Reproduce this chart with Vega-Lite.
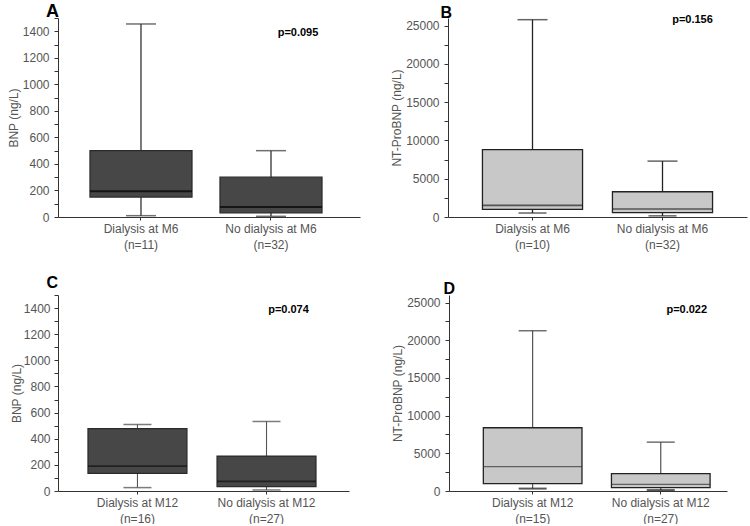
{
  "$schema": "https://vega.github.io/schema/vega-lite/v6.json",
  "background": "white",
  "padding": {"left": 7, "top": 3, "right": 3, "bottom": 0},
  "config": {
    "view": {"stroke": null},
    "font": "Liberation Sans",
    "axis": {
      "labelFont": "Liberation Sans", "labelFontSize": 12, "labelColor": "#555",
      "titleFont": "Liberation Sans", "titleFontSize": 12, "titleColor": "#555", "titleFontWeight": "normal",
      "domainColor": "#333", "tickColor": "#333", "grid": false, "labelOverlap": false
    },
    "title": {"font": "Liberation Sans", "fontWeight": "bold", "color": "#000", "anchor": "start", "frame": "group", "baseline": "bottom"}
  },
  "vconcat": [
    {
      "spacing": 30,
      "hconcat": [
        {
          "width": 302, "height": 199,
          "title": {"text": "A", "fontSize": 18, "offset": -9, "dx": 1, "align": "right"},
          "data": {"values": [
            {"group": "Dialysis at M6\n(n=11)", "low": 10, "q1": 150, "median": 195, "q3": 500, "high": 1455, "p": null},
            {"group": "No dialysis at M6\n(n=32)", "low": 5, "q1": 30, "median": 75, "q3": 300, "high": 500, "p": "p=0.095"}
          ]},
          "encoding": {"x": {"field": "group", "type": "nominal", "sort": null,
            "scale": {"paddingInner": 0.215, "paddingOuter": 0.269, "align": 0.457},
            "axis": {"title": null, "labelAngle": 0, "labelExpr": "split(datum.label, '\\n')", "labelLineHeight": 16, "tickSize": 3, "labelPadding": 3}}},
          "layer": [
            {"mark": {"type": "rule", "color": "#333", "strokeWidth": 1.3},
             "encoding": {"y": {"field": "low", "type": "quantitative", "scale": {"domain": [0, 1500], "nice": false},
               "axis": {"title": "BNP (ng/L)", "values": [0,100,200,300,400,500,600,700,800,900,1000,1100,1200,1300,1400,1500], "labelExpr": "datum.value % 200 === 0 && datum.value <= 1400 ? datum.label : ''", "labelOverlap": false, "tickSize": 4, "format": "d", "labelPadding": 5, "titlePadding": 2}},
               "y2": {"field": "high"}}},
            {"mark": {"type": "tick", "color": "#333", "size": 30, "thickness": 1.5}, "encoding": {"y": {"field": "high", "type": "quantitative",
               "axis": {"title": "BNP (ng/L)", "values": [0,100,200,300,400,500,600,700,800,900,1000,1100,1200,1300,1400,1500], "labelExpr": "datum.value % 200 === 0 && datum.value <= 1400 ? datum.label : ''", "labelOverlap": false, "tickSize": 4, "format": "d", "labelPadding": 5, "titlePadding": 2}}}},
            {"mark": {"type": "tick", "color": "#333", "size": 30, "thickness": 1.5}, "encoding": {"y": {"field": "low", "type": "quantitative",
               "axis": {"title": "BNP (ng/L)", "values": [0,100,200,300,400,500,600,700,800,900,1000,1100,1200,1300,1400,1500], "labelExpr": "datum.value % 200 === 0 && datum.value <= 1400 ? datum.label : ''", "labelOverlap": false, "tickSize": 4, "format": "d", "labelPadding": 5, "titlePadding": 2}}}},
            {"mark": {"type": "bar", "fill": "#474747", "stroke": "#2a2a2a", "strokeWidth": 1.2}, "encoding": {"y": {"field": "q1", "type": "quantitative",
               "axis": {"title": "BNP (ng/L)", "values": [0,100,200,300,400,500,600,700,800,900,1000,1100,1200,1300,1400,1500], "labelExpr": "datum.value % 200 === 0 && datum.value <= 1400 ? datum.label : ''", "labelOverlap": false, "tickSize": 4, "format": "d", "labelPadding": 5, "titlePadding": 2}}, "y2": {"field": "q3"}}},
            {"mark": {"type": "tick", "color": "#000", "size": 102, "thickness": 2}, "encoding": {"y": {"field": "median", "type": "quantitative",
               "axis": {"title": "BNP (ng/L)", "values": [0,100,200,300,400,500,600,700,800,900,1000,1100,1200,1300,1400,1500], "labelExpr": "datum.value % 200 === 0 && datum.value <= 1400 ? datum.label : ''", "labelOverlap": false, "tickSize": 4, "format": "d", "labelPadding": 5, "titlePadding": 2}}}},
            {"transform": [{"filter": "datum.p != null"}],
             "mark": {"type": "text", "font": "Liberation Sans", "fontSize": 11, "fontWeight": "bold", "color": "#000", "dx": 27},
             "encoding": {"y": {"datum": 1390, "type": "quantitative",
               "axis": {"title": "BNP (ng/L)", "values": [0,100,200,300,400,500,600,700,800,900,1000,1100,1200,1300,1400,1500], "labelExpr": "datum.value % 200 === 0 && datum.value <= 1400 ? datum.label : ''", "labelOverlap": false, "tickSize": 4, "format": "d", "labelPadding": 5, "titlePadding": 2}}, "text": {"field": "p"}}}
          ]
        },
        {
          "width": 299, "height": 199,
          "title": {"text": "B", "fontSize": 16, "offset": -7, "dx": 4, "align": "right"},
          "data": {"values": [
            {"group": "Dialysis at M6\n(n=10)", "low": 520, "q1": 1000, "median": 1520, "q3": 8790, "high": 25780, "p": null},
            {"group": "No dialysis at M6\n(n=32)", "low": 150, "q1": 560, "median": 1040, "q3": 3300, "high": 7300, "p": "p=0.156"}
          ]},
          "encoding": {"x": {"field": "group", "type": "nominal", "sort": null,
            "scale": {"paddingInner": 0.23, "paddingOuter": 0.265, "align": 0.5},
            "axis": {"title": null, "labelAngle": 0, "labelExpr": "split(datum.label, '\\n')", "labelLineHeight": 16, "tickSize": 3, "labelPadding": 3}}},
          "layer": [
            {"mark": {"type": "rule", "color": "#222", "strokeWidth": 1.3},
             "encoding": {"y": {"field": "low", "type": "quantitative", "scale": {"domain": [0, 26000], "nice": false},
               "axis": {"title": "NT-ProBNP (ng/L)", "values": [0,2500,5000,7500,10000,12500,15000,17500,20000,22500,25000], "labelExpr": "datum.value % 5000 === 0 ? datum.label : ''", "labelOverlap": false, "tickSize": 4, "format": "d", "labelPadding": 5, "titlePadding": 2}},
               "y2": {"field": "high"}}},
            {"mark": {"type": "tick", "color": "#222", "size": 30, "thickness": 1.5}, "encoding": {"y": {"field": "high", "type": "quantitative",
               "axis": {"title": "NT-ProBNP (ng/L)", "values": [0,2500,5000,7500,10000,12500,15000,17500,20000,22500,25000], "labelExpr": "datum.value % 5000 === 0 ? datum.label : ''", "labelOverlap": false, "tickSize": 4, "format": "d", "labelPadding": 5, "titlePadding": 2}}}},
            {"mark": {"type": "tick", "color": "#222", "size": 28, "thickness": 1.5}, "encoding": {"y": {"field": "low", "type": "quantitative",
               "axis": {"title": "NT-ProBNP (ng/L)", "values": [0,2500,5000,7500,10000,12500,15000,17500,20000,22500,25000], "labelExpr": "datum.value % 5000 === 0 ? datum.label : ''", "labelOverlap": false, "tickSize": 4, "format": "d", "labelPadding": 5, "titlePadding": 2}}}},
            {"mark": {"type": "bar", "fill": "#c8c8c8", "stroke": "#222", "strokeWidth": 1.3}, "encoding": {"y": {"field": "q1", "type": "quantitative",
               "axis": {"title": "NT-ProBNP (ng/L)", "values": [0,2500,5000,7500,10000,12500,15000,17500,20000,22500,25000], "labelExpr": "datum.value % 5000 === 0 ? datum.label : ''", "labelOverlap": false, "tickSize": 4, "format": "d", "labelPadding": 5, "titlePadding": 2}}, "y2": {"field": "q3"}}},
            {"mark": {"type": "tick", "color": "#222", "size": 100, "thickness": 1.6}, "encoding": {"y": {"field": "median", "type": "quantitative",
               "axis": {"title": "NT-ProBNP (ng/L)", "values": [0,2500,5000,7500,10000,12500,15000,17500,20000,22500,25000], "labelExpr": "datum.value % 5000 === 0 ? datum.label : ''", "labelOverlap": false, "tickSize": 4, "format": "d", "labelPadding": 5, "titlePadding": 2}}}},
            {"transform": [{"filter": "datum.p != null"}],
             "mark": {"type": "text", "font": "Liberation Sans", "fontSize": 11, "fontWeight": "bold", "color": "#000", "dx": 30},
             "encoding": {"y": {"datum": 25800, "type": "quantitative",
               "axis": {"title": "NT-ProBNP (ng/L)", "values": [0,2500,5000,7500,10000,12500,15000,17500,20000,22500,25000], "labelExpr": "datum.value % 5000 === 0 ? datum.label : ''", "labelOverlap": false, "tickSize": 4, "format": "d", "labelPadding": 5, "titlePadding": 2}}, "text": {"field": "p"}}}
          ]
        }
      ]
    },
    {
      "spacing": 42,
      "hconcat": [
        {
          "width": 291, "height": 196,
          "title": {"text": "C", "fontSize": 16, "offset": -2, "dx": 0, "align": "right"},
          "data": {"values": [
            {"group": "Dialysis at M12\n(n=16)", "low": 26, "q1": 135, "median": 190, "q3": 477, "high": 509, "p": null},
            {"group": "No dialysis at M12\n(n=27)", "low": 8, "q1": 34, "median": 74, "q3": 267, "high": 532, "p": "p=0.074"}
          ]},
          "encoding": {"x": {"field": "group", "type": "nominal", "sort": null,
            "scale": {"paddingInner": 0.233, "paddingOuter": 0.244, "align": 0.476},
            "axis": {"title": null, "labelAngle": 0, "labelExpr": "split(datum.label, '\\n')", "labelLineHeight": 16, "tickSize": 3, "labelPadding": 3}}},
          "layer": [
            {"mark": {"type": "rule", "color": "#555", "strokeWidth": 1.1},
             "encoding": {"y": {"field": "low", "type": "quantitative", "scale": {"domain": [0, 1500], "nice": false},
               "axis": {"title": "BNP (ng/L)", "values": [0,100,200,300,400,500,600,700,800,900,1000,1100,1200,1300,1400,1500], "labelExpr": "datum.value % 200 === 0 && datum.value <= 1400 ? datum.label : ''", "labelOverlap": false, "tickSize": 4, "format": "d", "labelPadding": 4, "titlePadding": 0}},
               "y2": {"field": "high"}}},
            {"mark": {"type": "tick", "color": "#444", "size": 28, "thickness": 1.5}, "encoding": {"y": {"field": "high", "type": "quantitative",
               "axis": {"title": "BNP (ng/L)", "values": [0,100,200,300,400,500,600,700,800,900,1000,1100,1200,1300,1400,1500], "labelExpr": "datum.value % 200 === 0 && datum.value <= 1400 ? datum.label : ''", "labelOverlap": false, "tickSize": 4, "format": "d", "labelPadding": 4, "titlePadding": 0}}}},
            {"mark": {"type": "tick", "color": "#444", "size": 28, "thickness": 1.5}, "encoding": {"y": {"field": "low", "type": "quantitative",
               "axis": {"title": "BNP (ng/L)", "values": [0,100,200,300,400,500,600,700,800,900,1000,1100,1200,1300,1400,1500], "labelExpr": "datum.value % 200 === 0 && datum.value <= 1400 ? datum.label : ''", "labelOverlap": false, "tickSize": 4, "format": "d", "labelPadding": 4, "titlePadding": 0}}}},
            {"mark": {"type": "bar", "fill": "#474747", "stroke": "#2a2a2a", "strokeWidth": 1.2}, "encoding": {"y": {"field": "q1", "type": "quantitative",
               "axis": {"title": "BNP (ng/L)", "values": [0,100,200,300,400,500,600,700,800,900,1000,1100,1200,1300,1400,1500], "labelExpr": "datum.value % 200 === 0 && datum.value <= 1400 ? datum.label : ''", "labelOverlap": false, "tickSize": 4, "format": "d", "labelPadding": 4, "titlePadding": 0}}, "y2": {"field": "q3"}}},
            {"mark": {"type": "tick", "color": "#111", "size": 99, "thickness": 1.6}, "encoding": {"y": {"field": "median", "type": "quantitative",
               "axis": {"title": "BNP (ng/L)", "values": [0,100,200,300,400,500,600,700,800,900,1000,1100,1200,1300,1400,1500], "labelExpr": "datum.value % 200 === 0 && datum.value <= 1400 ? datum.label : ''", "labelOverlap": false, "tickSize": 4, "format": "d", "labelPadding": 4, "titlePadding": 0}}}},
            {"transform": [{"filter": "datum.p != null"}],
             "mark": {"type": "text", "font": "Liberation Sans", "fontSize": 11, "fontWeight": "bold", "color": "#000", "dx": 22},
             "encoding": {"y": {"datum": 1387, "type": "quantitative",
               "axis": {"title": "BNP (ng/L)", "values": [0,100,200,300,400,500,600,700,800,900,1000,1100,1200,1300,1400,1500], "labelExpr": "datum.value % 200 === 0 && datum.value <= 1400 ? datum.label : ''", "labelOverlap": false, "tickSize": 4, "format": "d", "labelPadding": 4, "titlePadding": 0}}, "text": {"field": "p"}}}
          ]
        },
        {
          "width": 278, "height": 196,
          "title": {"text": "D", "fontSize": 16, "offset": -2, "dx": 6, "align": "right"},
          "data": {"values": [
            {"group": "Dialysis at M12\n(n=15)", "low": 320, "q1": 980, "median": 3230, "q3": 8390, "high": 21260, "p": null},
            {"group": "No dialysis at M12\n(n=27)", "low": 120, "q1": 450, "median": 890, "q3": 2300, "high": 6480, "p": "p=0.022"}
          ]},
          "encoding": {"x": {"field": "group", "type": "nominal", "sort": null,
            "scale": {"paddingInner": 0.23, "paddingOuter": 0.2, "align": 0.67},
            "axis": {"title": null, "labelAngle": 0, "labelExpr": "split(datum.label, '\\n')", "labelLineHeight": 16, "tickSize": 3, "labelPadding": 3}}},
          "layer": [
            {"mark": {"type": "rule", "color": "#444", "strokeWidth": 1.1},
             "encoding": {"y": {"field": "low", "type": "quantitative", "scale": {"domain": [0, 26000], "nice": false},
               "axis": {"title": "NT-ProBNP (ng/L)", "values": [0,2500,5000,7500,10000,12500,15000,17500,20000,22500,25000], "labelExpr": "datum.value % 5000 === 0 ? datum.label : ''", "labelOverlap": false, "tickSize": 4, "format": "d", "labelPadding": 5, "titlePadding": 2}},
               "y2": {"field": "high"}}},
            {"mark": {"type": "tick", "color": "#333", "size": 28, "thickness": 1.5}, "encoding": {"y": {"field": "high", "type": "quantitative",
               "axis": {"title": "NT-ProBNP (ng/L)", "values": [0,2500,5000,7500,10000,12500,15000,17500,20000,22500,25000], "labelExpr": "datum.value % 5000 === 0 ? datum.label : ''", "labelOverlap": false, "tickSize": 4, "format": "d", "labelPadding": 5, "titlePadding": 2}}}},
            {"mark": {"type": "tick", "color": "#111", "size": 28, "thickness": 2}, "encoding": {"y": {"field": "low", "type": "quantitative",
               "axis": {"title": "NT-ProBNP (ng/L)", "values": [0,2500,5000,7500,10000,12500,15000,17500,20000,22500,25000], "labelExpr": "datum.value % 5000 === 0 ? datum.label : ''", "labelOverlap": false, "tickSize": 4, "format": "d", "labelPadding": 5, "titlePadding": 2}}}},
            {"mark": {"type": "bar", "fill": "#c8c8c8", "stroke": "#222", "strokeWidth": 1.3}, "encoding": {"y": {"field": "q1", "type": "quantitative",
               "axis": {"title": "NT-ProBNP (ng/L)", "values": [0,2500,5000,7500,10000,12500,15000,17500,20000,22500,25000], "labelExpr": "datum.value % 5000 === 0 ? datum.label : ''", "labelOverlap": false, "tickSize": 4, "format": "d", "labelPadding": 5, "titlePadding": 2}}, "y2": {"field": "q3"}}},
            {"mark": {"type": "tick", "color": "#333", "size": 99, "thickness": 1.3}, "encoding": {"y": {"field": "median", "type": "quantitative",
               "axis": {"title": "NT-ProBNP (ng/L)", "values": [0,2500,5000,7500,10000,12500,15000,17500,20000,22500,25000], "labelExpr": "datum.value % 5000 === 0 ? datum.label : ''", "labelOverlap": false, "tickSize": 4, "format": "d", "labelPadding": 5, "titlePadding": 2}}}},
            {"transform": [{"filter": "datum.p != null"}],
             "mark": {"type": "text", "font": "Liberation Sans", "fontSize": 11, "fontWeight": "bold", "color": "#000", "dx": 26},
             "encoding": {"y": {"datum": 24000, "type": "quantitative",
               "axis": {"title": "NT-ProBNP (ng/L)", "values": [0,2500,5000,7500,10000,12500,15000,17500,20000,22500,25000], "labelExpr": "datum.value % 5000 === 0 ? datum.label : ''", "labelOverlap": false, "tickSize": 4, "format": "d", "labelPadding": 5, "titlePadding": 2}}, "text": {"field": "p"}}}
          ]
        }
      ]
    }
  ],
  "spacing": 25
}
